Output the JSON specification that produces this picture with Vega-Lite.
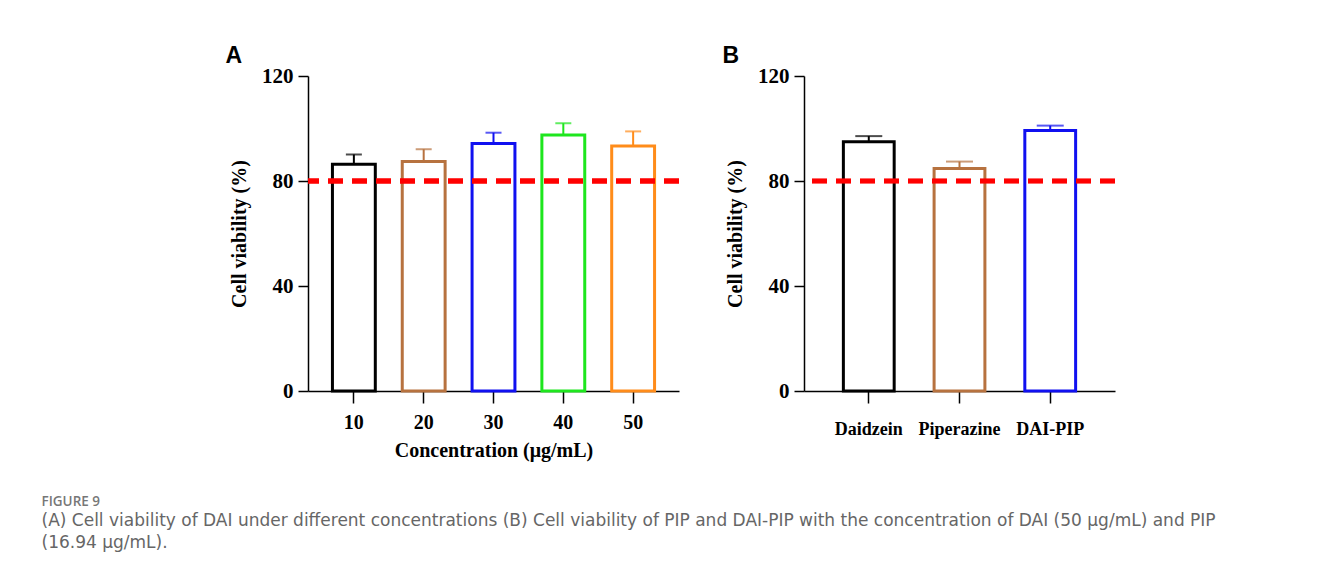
{
  "$schema": "https://vega.github.io/schema/vega-lite/v6.json",
  "padding": {"left": 41, "top": 45, "right": 0, "bottom": 20},
  "autosize": {"type": "pad"},
  "background": "white",
  "title": {
    "text": "FIGURE 9",
    "subtitle": [
      "(A) Cell viability of DAI under different concentrations (B) Cell viability of PIP and DAI-PIP with the concentration of DAI (50 μg/mL) and PIP",
      "(16.94 μg/mL)."
    ],
    "orient": "bottom",
    "anchor": "start",
    "frame": "bounds",
    "dx": -184,
    "offset": 35,
    "font": "Open Sans",
    "fontSize": 13.5,
    "fontWeight": 600,
    "color": "#777777",
    "subtitleFont": "DejaVu Sans",
    "subtitleFontSize": 17,
    "subtitleColor": "#666666",
    "subtitleLineHeight": 22,
    "subtitlePadding": 4,
    "limit": 1300
  },
  "spacing": 40,
  "hconcat": [
    {
      "width": 371,
      "height": 315,
      "title": {"text": "A", "anchor": "start", "frame": "bounds", "font": "Liberation Sans", "fontSize": 23, "fontWeight": "bold", "color": "#000000", "offset": -3, "dx": -4},
      "data": {"values": [
        {"conc": "10", "viability": 86.4, "upper": 90.1},
        {"conc": "20", "viability": 87.4, "upper": 92.1},
        {"conc": "30", "viability": 94.3, "upper": 98.4},
        {"conc": "40", "viability": 97.5, "upper": 102.0},
        {"conc": "50", "viability": 93.3, "upper": 98.9}
      ]},
      "layer": [
        {
          "mark": {"type": "bar", "fill": "white", "strokeWidth": 3},
          "encoding": {
            "x": {"field": "conc", "type": "ordinal", "sort": null,
              "scale": {"paddingInner": 0.386, "paddingOuter": 0.35},
              "axis": {"title": "Concentration (μg/mL)", "labelAngle": 0, "tickSize": 12, "labelPadding": 9, "labelFontSize": 20, "labelFontWeight": "bold", "titleFontSize": 20, "titleFontWeight": "bold", "titlePadding": 8, "domainColor": "#000", "tickColor": "#000", "domainWidth": 1.5, "tickWidth": 1.5, "labelColor": "#000", "titleColor": "#000", "labelFont": "Liberation Serif", "titleFont": "Liberation Serif"}
            },
            "y": {"field": "viability", "type": "quantitative",
              "scale": {"domain": [0, 120], "nice": false},
              "axis": {"title": "Cell viability (%)", "values": [0, 40, 80, 120], "grid": false, "tickSize": 10, "labelPadding": 5, "labelFontSize": 21, "labelFontWeight": "bold", "titleFontSize": 20, "titleFontWeight": "bold", "titlePadding": 12, "domainColor": "#000", "tickColor": "#000", "domainWidth": 1.5, "tickWidth": 1.5, "labelColor": "#000", "titleColor": "#000", "labelFont": "Liberation Serif", "titleFont": "Liberation Serif"}
            },
            "stroke": {"field": "conc", "type": "nominal", "legend": null,
              "scale": {"domain": ["10", "20", "30", "40", "50"], "range": ["#000000", "#b7723f", "#1010f0", "#1ee61e", "#ff8c1a"]}}
          }
        },
        {
          "mark": {"type": "rule", "strokeWidth": 2},
          "encoding": {
            "x": {"field": "conc", "type": "ordinal", "sort": null},
            "y": {"field": "viability", "type": "quantitative"},
            "y2": {"field": "upper"},
            "color": {"field": "conc", "type": "nominal", "legend": null,
              "scale": {"domain": ["10", "20", "30", "40", "50"], "range": ["#000000", "#b7723f", "#1010f0", "#1ee61e", "#ff8c1a"]}}
          }
        },
        {
          "mark": {"type": "tick", "size": 16, "thickness": 2, "orient": "horizontal"},
          "encoding": {
            "x": {"field": "conc", "type": "ordinal", "sort": null},
            "y": {"field": "upper", "type": "quantitative"},
            "color": {"field": "conc", "type": "nominal", "legend": null,
              "scale": {"domain": ["10", "20", "30", "40", "50"], "range": ["#000000", "#b7723f", "#1010f0", "#1ee61e", "#ff8c1a"]}}
          }
        },
        {
          "mark": {"type": "rule", "color": "#ff0000", "strokeWidth": 4.5, "strokeDash": [15, 9]},
          "encoding": {"y": {"datum": 80, "type": "quantitative"}}
        }
      ]
    },
    {
      "width": 311,
      "height": 315,
      "title": {"text": "B", "anchor": "start", "frame": "bounds", "font": "Liberation Sans", "fontSize": 23, "fontWeight": "bold", "color": "#000000", "offset": -3, "dx": -3},
      "data": {"values": [
        {"compound": "Daidzein", "viability": 95.0, "upper": 97.1},
        {"compound": "Piperazine", "viability": 84.8, "upper": 87.4},
        {"compound": "DAI-PIP", "viability": 99.2, "upper": 101.1}
      ]},
      "layer": [
        {
          "mark": {"type": "bar", "fill": "white", "strokeWidth": 3},
          "encoding": {
            "x": {"field": "compound", "type": "nominal", "sort": null,
              "scale": {"paddingInner": 0.44, "paddingOuter": 0.434},
              "axis": {"title": null, "labelAngle": 0, "tickSize": 12, "labelPadding": 17, "labelFontSize": 18, "labelFontWeight": "bold", "domainColor": "#000", "tickColor": "#000", "domainWidth": 1.5, "tickWidth": 1.5, "labelColor": "#000", "labelFont": "Liberation Serif"}
            },
            "y": {"field": "viability", "type": "quantitative",
              "scale": {"domain": [0, 120], "nice": false},
              "axis": {"title": "Cell viability (%)", "values": [0, 40, 80, 120], "grid": false, "tickSize": 10, "labelPadding": 5, "labelFontSize": 21, "labelFontWeight": "bold", "titleFontSize": 20, "titleFontWeight": "bold", "titlePadding": 12, "domainColor": "#000", "tickColor": "#000", "domainWidth": 1.5, "tickWidth": 1.5, "labelColor": "#000", "titleColor": "#000", "labelFont": "Liberation Serif", "titleFont": "Liberation Serif"}
            },
            "stroke": {"field": "compound", "type": "nominal", "legend": null,
              "scale": {"domain": ["Daidzein", "Piperazine", "DAI-PIP"], "range": ["#000000", "#b7723f", "#1010f0"]}}
          }
        },
        {
          "mark": {"type": "rule", "strokeWidth": 2},
          "encoding": {
            "x": {"field": "compound", "type": "nominal", "sort": null},
            "y": {"field": "viability", "type": "quantitative"},
            "y2": {"field": "upper"},
            "color": {"field": "compound", "type": "nominal", "legend": null,
              "scale": {"domain": ["Daidzein", "Piperazine", "DAI-PIP"], "range": ["#000000", "#b7723f", "#1010f0"]}}
          }
        },
        {
          "mark": {"type": "tick", "size": 27, "thickness": 2, "orient": "horizontal"},
          "encoding": {
            "x": {"field": "compound", "type": "nominal", "sort": null},
            "y": {"field": "upper", "type": "quantitative"},
            "color": {"field": "compound", "type": "nominal", "legend": null,
              "scale": {"domain": ["Daidzein", "Piperazine", "DAI-PIP"], "range": ["#000000", "#b7723f", "#1010f0"]}}
          }
        },
        {
          "mark": {"type": "rule", "color": "#ff0000", "strokeWidth": 4.5, "strokeDash": [15, 9]},
          "encoding": {"y": {"datum": 80, "type": "quantitative"}}
        }
      ]
    }
  ],
  "resolve": {"scale": {"color": "independent", "stroke": "independent"}},
  "config": {
    "view": {"stroke": null},
    "font": "Liberation Serif"
  }
}
